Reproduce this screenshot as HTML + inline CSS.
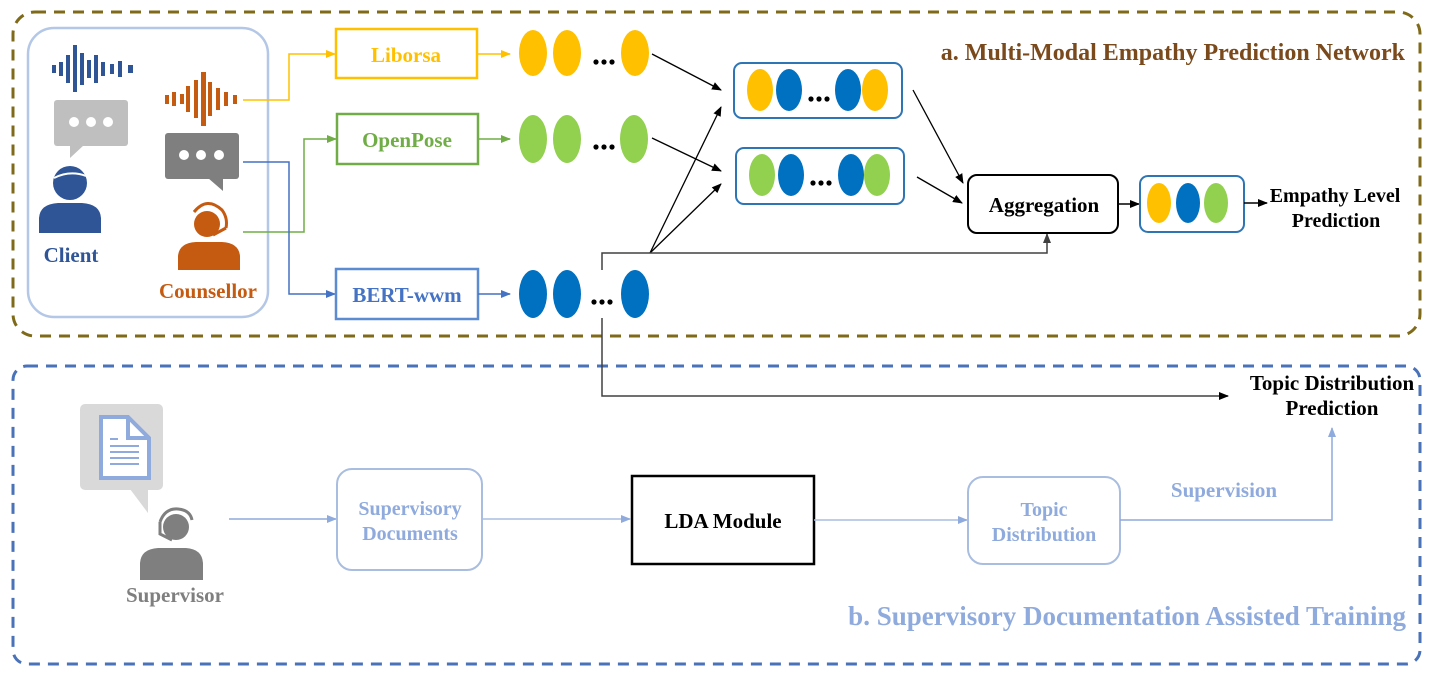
<!DOCTYPE html>
<html><head><meta charset="utf-8"><style>
html,body{margin:0;padding:0;background:#fff;}
svg{display:block;}
text{font-family:"Liberation Serif",serif;font-weight:bold;}
</style></head><body>
<svg width="1435" height="679" viewBox="0 0 1435 679" xmlns="http://www.w3.org/2000/svg">
<defs>
<marker id="ak" markerWidth="10" markerHeight="10" refX="9" refY="5" orient="auto" markerUnits="userSpaceOnUse"><path d="M0,1 L10,5 L0,9 z" fill="#000"/></marker>
<marker id="ag" markerWidth="10" markerHeight="10" refX="9" refY="5" orient="auto" markerUnits="userSpaceOnUse"><path d="M0,1 L10,5 L0,9 z" fill="#404040"/></marker>
<marker id="ay" markerWidth="10" markerHeight="10" refX="9" refY="5" orient="auto" markerUnits="userSpaceOnUse"><path d="M0,1 L10,5 L0,9 z" fill="#ffc000"/></marker>
<marker id="agr" markerWidth="10" markerHeight="10" refX="9" refY="5" orient="auto" markerUnits="userSpaceOnUse"><path d="M0,1 L10,5 L0,9 z" fill="#70ad47"/></marker>
<marker id="ab" markerWidth="10" markerHeight="10" refX="9" refY="5" orient="auto" markerUnits="userSpaceOnUse"><path d="M0,1 L10,5 L0,9 z" fill="#4472c4"/></marker>
<marker id="al" markerWidth="10" markerHeight="10" refX="9" refY="5" orient="auto" markerUnits="userSpaceOnUse"><path d="M0,1 L10,5 L0,9 z" fill="#8faadc"/></marker>
</defs>

<rect x="13" y="12" width="1407" height="324" rx="22" fill="none" stroke="#7f6a1a" stroke-width="3" stroke-dasharray="11,8"/>
<rect x="13" y="366" width="1407" height="298" rx="14" fill="none" stroke="#4a72b8" stroke-width="3" stroke-dasharray="11,8"/>

<rect x="28" y="28" width="240" height="289" rx="26" fill="none" stroke="#b4c7e7" stroke-width="2.5"/>

<g fill="#2f5597">
<rect x="52" y="65" width="4" height="8"/><rect x="59" y="62" width="4" height="14"/><rect x="66" y="55" width="4" height="28"/>
<rect x="73" y="45" width="4" height="47"/><rect x="80" y="53" width="4" height="32"/><rect x="87" y="60" width="4" height="18"/>
<rect x="94" y="55" width="4" height="28"/><rect x="101" y="62" width="4" height="14"/><rect x="110" y="64" width="4" height="10"/>
<rect x="118" y="61" width="4" height="16"/><rect x="128" y="65" width="5" height="8"/>
</g>
<rect x="54" y="100" width="74" height="46" rx="3" fill="#bfbfbf"/>
<path d="M70,145 L70,158 L84,145 z" fill="#bfbfbf"/>
<circle cx="74" cy="122" r="5" fill="#fff"/><circle cx="91" cy="122" r="5" fill="#fff"/><circle cx="108" cy="122" r="5" fill="#fff"/>
<circle cx="70" cy="183" r="17" fill="#2f5597"/>
<path d="M54,178 Q70,170 86,176" stroke="#fff" stroke-width="2" fill="none"/>
<path d="M39,233 L39,218 Q40,204 58,203 L82,203 Q100,204 101,218 L101,233 z" fill="#2f5597"/>
<text x="71" y="262" font-size="21" fill="#2f5597" text-anchor="middle">Client</text>

<g fill="#c55a11">
<rect x="165" y="95" width="4" height="9"/><rect x="172" y="92" width="4" height="14"/><rect x="180" y="94" width="4" height="10"/>
<rect x="186" y="86" width="4" height="26"/><rect x="194" y="80" width="4" height="38"/><rect x="201" y="72" width="5" height="54"/>
<rect x="208" y="82" width="4" height="34"/><rect x="216" y="88" width="4" height="22"/><rect x="224" y="92" width="4" height="14"/><rect x="233" y="95" width="4" height="9"/>
</g>
<rect x="165" y="133" width="74" height="46" rx="3" fill="#7f7f7f"/>
<path d="M208,178 L223,191 L223,178 z" fill="#7f7f7f"/>
<circle cx="184" cy="155" r="5" fill="#fff"/><circle cx="201" cy="155" r="5" fill="#fff"/><circle cx="219" cy="155" r="5" fill="#fff"/>
<circle cx="207" cy="224" r="13" fill="#c55a11"/>
<path d="M194,212 Q207,196 222,210 Q228,218 226,228" stroke="#c55a11" stroke-width="3" fill="none"/>
<path d="M226,228 L213,235" stroke="#c55a11" stroke-width="3"/>
<path d="M178,270 L178,256 Q179,243 196,242 L222,242 Q239,243 240,256 L240,270 z" fill="#c55a11"/>
<text x="208" y="298" font-size="21" fill="#c55a11" text-anchor="middle">Counsellor</text>

<polyline points="243,100 289,100 289,54 335,54" fill="none" stroke="#ffc000" stroke-width="1.5" marker-end="url(#ay)"/>
<polyline points="243,232 304,232 304,139 336,139" fill="none" stroke="#70ad47" stroke-width="1.5" marker-end="url(#agr)"/>
<polyline points="243,162 289,162 289,294 335,294" fill="none" stroke="#4472c4" stroke-width="1.5" marker-end="url(#ab)"/>

<rect x="336" y="29" width="141" height="49" fill="#fff" stroke="#ffc000" stroke-width="2.5"/>
<text x="406" y="62" font-size="21" fill="#ffc000" text-anchor="middle">Liborsa</text>
<rect x="337" y="114" width="141" height="50" fill="#fff" stroke="#70ad47" stroke-width="2.5"/>
<text x="407" y="147" font-size="21" fill="#70ad47" text-anchor="middle">OpenPose</text>
<rect x="336" y="269" width="142" height="50" fill="#fff" stroke="#5b8bd0" stroke-width="2.5"/>
<text x="407" y="302" font-size="21" fill="#4472c4" text-anchor="middle">BERT-wwm</text>

<line x1="478" y1="54" x2="510" y2="54" stroke="#ffc000" stroke-width="1.5" marker-end="url(#ay)"/>
<line x1="478" y1="139" x2="510" y2="139" stroke="#70ad47" stroke-width="1.5" marker-end="url(#agr)"/>
<line x1="478" y1="294" x2="510" y2="294" stroke="#4472c4" stroke-width="1.5" marker-end="url(#ab)"/>

<g fill="#ffc000"><ellipse cx="533" cy="53" rx="14" ry="23"/><ellipse cx="567" cy="53" rx="14" ry="23"/><ellipse cx="635" cy="53" rx="14" ry="23"/></g>
<g fill="#92d050"><ellipse cx="533" cy="139" rx="14" ry="24"/><ellipse cx="567" cy="139" rx="14" ry="24"/><ellipse cx="634" cy="139" rx="14" ry="24"/></g>
<g fill="#0070c0"><ellipse cx="533" cy="294" rx="14" ry="24"/><ellipse cx="567" cy="294" rx="14" ry="24"/><ellipse cx="635" cy="294" rx="14" ry="24"/></g>
<g fill="#000">
<circle cx="596" cy="62" r="2.6"/><circle cx="604" cy="62" r="2.6"/><circle cx="612" cy="62" r="2.6"/>
<circle cx="596" cy="147" r="2.6"/><circle cx="604" cy="147" r="2.6"/><circle cx="612" cy="147" r="2.6"/>
<circle cx="594" cy="302" r="2.6"/><circle cx="602" cy="302" r="2.6"/><circle cx="610" cy="302" r="2.6"/>
</g>

<line x1="652" y1="54" x2="721" y2="90" stroke="#000" stroke-width="1.3" marker-end="url(#ak)"/>
<line x1="652" y1="138" x2="721" y2="171" stroke="#000" stroke-width="1.3" marker-end="url(#ak)"/>
<line x1="650" y1="253" x2="721" y2="107" stroke="#000" stroke-width="1.3" marker-end="url(#ak)"/>
<line x1="650" y1="253" x2="721" y2="184" stroke="#000" stroke-width="1.3" marker-end="url(#ak)"/>

<polyline points="602,270 602,253 1047,253 1047,234" fill="none" stroke="#404040" stroke-width="1.5" marker-end="url(#ag)"/>
<polyline points="602,318 602,396 1228,396" fill="none" stroke="#404040" stroke-width="1.5" marker-end="url(#ak)"/>

<rect x="734" y="63" width="168" height="55" rx="8" fill="#fff" stroke="#2e75b6" stroke-width="2"/>
<ellipse cx="760" cy="90" rx="13" ry="21" fill="#ffc000"/><ellipse cx="789" cy="90" rx="13" ry="21" fill="#0070c0"/>
<ellipse cx="848" cy="90" rx="13" ry="21" fill="#0070c0"/><ellipse cx="875" cy="90" rx="13" ry="21" fill="#ffc000"/>
<g fill="#000"><circle cx="811" cy="99" r="2.6"/><circle cx="819" cy="99" r="2.6"/><circle cx="827" cy="99" r="2.6"/></g>
<rect x="736" y="148" width="168" height="56" rx="8" fill="#fff" stroke="#2e75b6" stroke-width="2"/>
<ellipse cx="762" cy="175" rx="13" ry="21" fill="#92d050"/><ellipse cx="791" cy="175" rx="13" ry="21" fill="#0070c0"/>
<ellipse cx="851" cy="175" rx="13" ry="21" fill="#0070c0"/><ellipse cx="877" cy="175" rx="13" ry="21" fill="#92d050"/>
<g fill="#000"><circle cx="813" cy="183" r="2.6"/><circle cx="821" cy="183" r="2.6"/><circle cx="829" cy="183" r="2.6"/></g>

<line x1="913" y1="90" x2="963" y2="183" stroke="#000" stroke-width="1.3" marker-end="url(#ak)"/>
<line x1="917" y1="177" x2="962" y2="203" stroke="#000" stroke-width="1.3" marker-end="url(#ak)"/>

<rect x="968" y="175" width="150" height="58" rx="9" fill="#fff" stroke="#000" stroke-width="2"/>
<text x="1044" y="212" font-size="21" fill="#000" text-anchor="middle">Aggregation</text>
<line x1="1118" y1="204" x2="1139" y2="204" stroke="#000" stroke-width="1.5" marker-end="url(#ak)"/>
<rect x="1140" y="176" width="104" height="56" rx="8" fill="#fff" stroke="#2e75b6" stroke-width="2"/>
<ellipse cx="1159" cy="203" rx="12" ry="20" fill="#ffc000"/><ellipse cx="1188" cy="203" rx="12" ry="20" fill="#0070c0"/><ellipse cx="1216" cy="203" rx="12" ry="20" fill="#92d050"/>
<line x1="1244" y1="203" x2="1267" y2="203" stroke="#000" stroke-width="1.5" marker-end="url(#ak)"/>
<text x="1335" y="202" font-size="20" fill="#000" text-anchor="middle">Empathy Level</text>
<text x="1336" y="227" font-size="20" fill="#000" text-anchor="middle">Prediction</text>

<text x="1405" y="60" font-size="24" fill="#7b4a1c" text-anchor="end">a. Multi-Modal Empathy Prediction Network</text>

<text x="1332" y="390" font-size="21" fill="#000" text-anchor="middle">Topic Distribution</text>
<text x="1332" y="415" font-size="21" fill="#000" text-anchor="middle">Prediction</text>

<rect x="80" y="404" width="83" height="86" rx="5" fill="#d9d9d9"/>
<path d="M130,489 L148,513 L148,489 z" fill="#d9d9d9"/>
<path d="M101,417 L128,417 L149,438 L149,478 L101,478 z" fill="#fff" stroke="#8faadc" stroke-width="4" stroke-linejoin="miter"/>
<path d="M128,417 L128,438 L149,438" fill="none" stroke="#8faadc" stroke-width="4"/>
<g stroke="#8faadc" stroke-width="2"><line x1="110" y1="439" x2="118" y2="439"/><line x1="110" y1="446" x2="139" y2="446"/><line x1="110" y1="452" x2="139" y2="452"/><line x1="110" y1="458" x2="139" y2="458"/><line x1="110" y1="464" x2="139" y2="464"/></g>
<circle cx="176" cy="527" r="13" fill="#7f7f7f"/>
<path d="M160,522 Q165,508 178,509 Q190,510 192,520" stroke="#7f7f7f" stroke-width="3" fill="none"/>
<path d="M160,522 L160,534 L172,540" stroke="#7f7f7f" stroke-width="3" fill="none"/>
<path d="M140,580 L140,563 Q141,549 158,548 L186,548 Q202,549 203,563 L203,580 z" fill="#7f7f7f"/>
<text x="175" y="602" font-size="21" fill="#7f7f7f" text-anchor="middle">Supervisor</text>

<line x1="229" y1="519" x2="336" y2="519" stroke="#8faadc" stroke-width="1.5" marker-end="url(#al)"/>
<rect x="337" y="469" width="145" height="101" rx="15" fill="#fff" stroke="#a9bde0" stroke-width="2"/>
<text x="410" y="515" font-size="20" fill="#8faadc" text-anchor="middle">Supervisory</text>
<text x="410" y="540" font-size="20" fill="#8faadc" text-anchor="middle">Documents</text>
<line x1="482" y1="519" x2="630" y2="519" stroke="#a9bde0" stroke-width="1.5" marker-end="url(#al)"/>
<rect x="632" y="476" width="182" height="88" fill="#fff" stroke="#000" stroke-width="2.5"/>
<text x="723" y="528" font-size="21" fill="#000" text-anchor="middle">LDA Module</text>
<line x1="814" y1="520" x2="967" y2="520" stroke="#a9bde0" stroke-width="1.5" marker-end="url(#al)"/>
<rect x="968" y="477" width="152" height="87" rx="15" fill="#fff" stroke="#a9bde0" stroke-width="2"/>
<text x="1044" y="516" font-size="20" fill="#8faadc" text-anchor="middle">Topic</text>
<text x="1044" y="541" font-size="20" fill="#8faadc" text-anchor="middle">Distribution</text>
<polyline points="1120,520 1332,520 1332,428" fill="none" stroke="#8faadc" stroke-width="1.5" marker-end="url(#al)"/>
<text x="1224" y="497" font-size="21" fill="#8faadc" text-anchor="middle">Supervision</text>

<text x="1406" y="625" font-size="27" fill="#8faadc" text-anchor="end">b. Supervisory Documentation Assisted Training</text>
</svg>
</body></html>
